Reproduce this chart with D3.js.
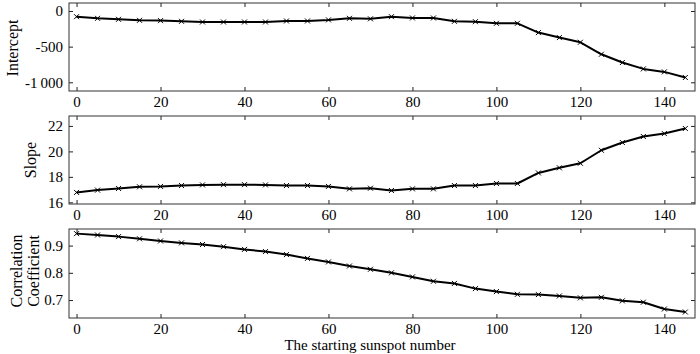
<!DOCTYPE html>
<html>
<head>
<meta charset="utf-8">
<script src="https://cdn.jsdelivr.net/npm/d3@7"></script>
<style>
  body { margin: 0; background: #fff; }
  svg text { font-family: "Liberation Serif", "Times New Roman", serif; fill: #000; }
</style>
</head>
<body>
<svg id="chart"></svg>
<script>
const width = 700;
const height = 354;

// starting sunspot number
const startNumbers = d3.range(0, 150, 5);

const intercept = [-80, -103, -117, -131, -135, -145, -154, -154, -154, -154,
    -140, -140, -125, -103, -110, -80, -98, -98, -145, -150,
    -173, -173, -303, -373, -439, -607, -723, -812, -854, -933];

const slope = [16.78, 16.96, 17.09, 17.22, 17.25, 17.32, 17.37, 17.39, 17.39, 17.37,
    17.32, 17.32, 17.25, 17.06, 17.11, 16.93, 17.06, 17.06, 17.32, 17.32,
    17.48, 17.48, 18.31, 18.71, 19.07, 20.09, 20.70, 21.17, 21.40, 21.80];

const correlation = [0.944, 0.939, 0.933, 0.925, 0.917, 0.910, 0.904, 0.896, 0.886, 0.878,
    0.867, 0.853, 0.840, 0.825, 0.813, 0.800, 0.785, 0.769, 0.761, 0.742,
    0.731, 0.721, 0.720, 0.715, 0.708, 0.710, 0.697, 0.692, 0.667, 0.656];

const xTicks = [0, 20, 40, 60, 80, 100, 120, 140];

const panels = [
    {label: ["Intercept"], values: intercept, domain: [-1122, 112], ticks: [0, -500, -1000],
        fmt: d => d === -1000 ? "-1\u2009000" : String(d), top: 3, bottom: 91, labelX: [12], labelY: 48},
    {label: ["Slope"], values: slope, domain: [15.87, 22.78], ticks: [16, 18, 20, 22],
        fmt: d => String(d), top: 116, bottom: 204, labelX: [30], labelY: 160},
    {label: ["Correlation", "Coefficient"], values: correlation, domain: [0.634, 0.961], ticks: [0.7, 0.8, 0.9],
        fmt: d3.format(".1f"), top: 229, bottom: 318, labelX: [16, 33], labelY: 271}
];

const margin = {left: 69, right: 5};

const svg = d3.select("#chart")
    .attr("width", width)
    .attr("height", height);

const x = d3.scaleLinear()
    .domain([-1.8, 147.3])
    .range([margin.left, width - margin.right]);

const tickLen = 4;

panels.forEach(p => {
    const y = d3.scaleLinear()
        .domain(p.domain)
        .range([p.bottom, p.top]);

    const g = svg.append("g");

    // bottom axis, ticks pointing inward
    g.append("g")
        .attr("transform", `translate(0,${p.bottom})`)
        .call(d3.axisBottom(x).tickValues(xTicks).tickSizeInner(-tickLen).tickSizeOuter(0).tickPadding(5))
        .call(a => a.select(".domain").remove())
        .call(a => a.selectAll("text").style("font-size", "15px"));

    // top axis, ticks only
    g.append("g")
        .attr("transform", `translate(0,${p.top})`)
        .call(d3.axisTop(x).tickValues(xTicks).tickSizeInner(-tickLen).tickSizeOuter(0).tickFormat(""))
        .call(a => a.select(".domain").remove());

    // left axis
    g.append("g")
        .attr("transform", `translate(${margin.left},0)`)
        .call(d3.axisLeft(y).tickValues(p.ticks).tickFormat(p.fmt).tickSizeInner(-tickLen).tickSizeOuter(0).tickPadding(6))
        .call(a => a.select(".domain").remove())
        .call(a => a.selectAll("text").style("font-size", "15px"));

    // right axis, ticks only
    g.append("g")
        .attr("transform", `translate(${width - margin.right},0)`)
        .call(d3.axisRight(y).tickValues(p.ticks).tickSizeInner(-tickLen).tickSizeOuter(0).tickFormat(""))
        .call(a => a.select(".domain").remove());

    g.selectAll(".tick line").attr("stroke", "#222");

    // frame
    g.append("rect")
        .attr("x", margin.left)
        .attr("y", p.top)
        .attr("width", width - margin.right - margin.left)
        .attr("height", p.bottom - p.top)
        .attr("fill", "none")
        .attr("stroke", "#333")
        .attr("stroke-width", 1);

    const pts = startNumbers.map((s, i) => [s, p.values[i]]);

    const line = d3.line()
        .x(d => x(d[0]))
        .y(d => y(d[1]));

    g.append("path")
        .datum(pts)
        .attr("fill", "none")
        .attr("stroke", "#000")
        .attr("stroke-width", 2)
        .attr("stroke-linejoin", "round")
        .attr("d", line);

    // x markers
    const m = 2.5;
    g.append("g")
        .selectAll("path")
        .data(pts)
        .join("path")
        .attr("fill", "none")
        .attr("stroke", "#000")
        .attr("stroke-width", 1)
        .attr("d", d => {
            const cx = x(d[0]), cy = y(d[1]);
            return `M${cx - m},${cy - m}L${cx + m},${cy + m}M${cx - m},${cy + m}L${cx + m},${cy - m}`;
        });

    // y label
    p.label.forEach((t, i) => {
        svg.append("text")
            .attr("transform", `translate(${p.labelX[i]},${p.labelY}) rotate(-90)`)
            .attr("text-anchor", "middle")
            .attr("dominant-baseline", "central")
            .style("font-size", "16px")
            .text(t);
    });
});

svg.append("text")
    .attr("x", 370)
    .attr("y", 350)
    .attr("text-anchor", "middle")
    .style("font-size", "15px")
    .text("The starting sunspot number");
</script>
</body>
</html>
